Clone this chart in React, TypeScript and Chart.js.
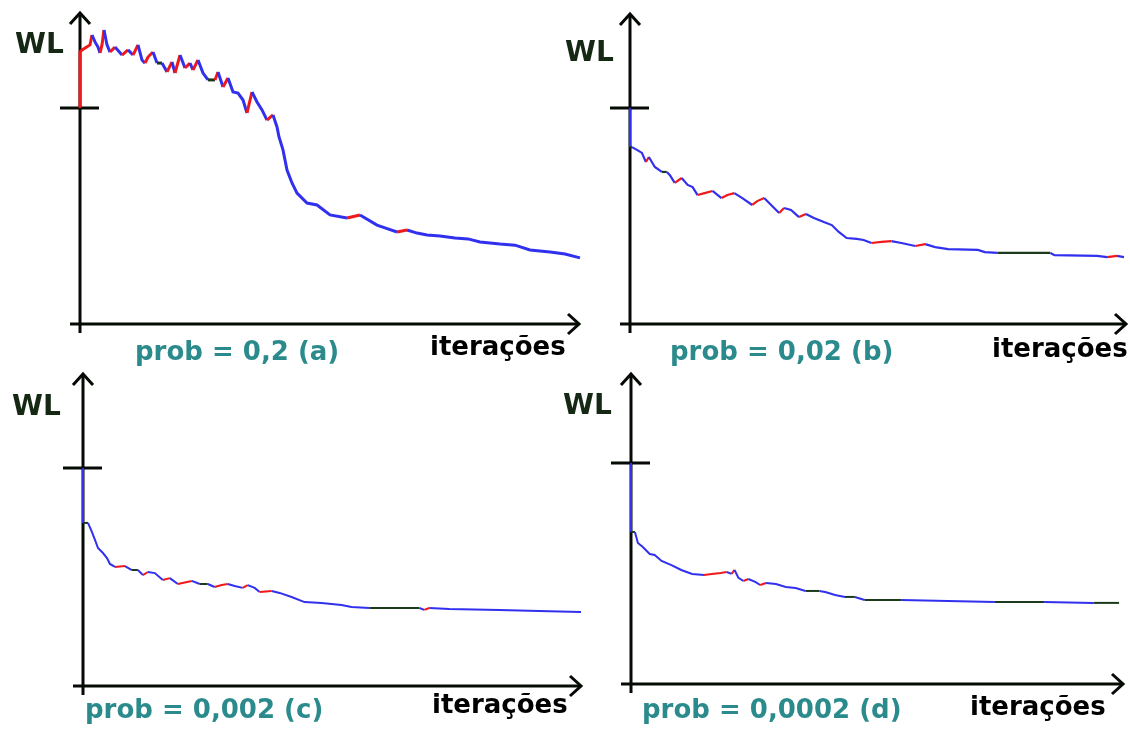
import React, { useEffect, useRef } from "react";
import { Chart, registerables } from "chart.js";

Chart.register(...registerables);

// ---------- data ----------
const PANEL_TITLES = ["prob = 0,2 (a)", "prob = 0,02 (b)", "prob = 0,002 (c)", "prob = 0,0002 (d)"];
const X_LABEL = "iterações";
const Y_LABEL = "WL";
const START_WL = 100;
const X_MAX = 500;

const ITER_A = [0, 0, 2, 10, 12, 15, 18, 20, 22, 24, 27, 30, 35, 42, 48, 53, 58, 62, 65, 68, 73, 77, 82, 87, 92, 95, 100, 105, 110, 113, 118, 123, 128, 135, 138, 143, 148, 153, 158, 163, 167, 172, 177, 182, 187, 193, 197, 199, 203, 207, 212, 217, 227, 237, 250, 267, 280, 297, 305, 317, 327, 337, 347, 360, 375, 388, 400, 420, 435, 450, 470, 485, 500];
const WL_A = [100, 125.9, 126.9, 129.2, 133.8, 130.6, 128.2, 125.5, 129.2, 136.1, 129.2, 125.9, 128.2, 124.5, 126.9, 124.5, 129.2, 122.2, 120.8, 123.6, 125.9, 120.8, 120.8, 116.7, 121.3, 116.2, 124.5, 118.5, 120.8, 117.6, 122.2, 116.2, 113.0, 113.0, 116.7, 109.7, 113.9, 107.4, 106.9, 103.7, 97.7, 107.4, 102.8, 99.1, 94.4, 96.8, 91.2, 86.6, 80.6, 71.3, 65.3, 60.6, 56.0, 55.1, 50.5, 49.1, 50.5, 45.8, 44.5, 42.6, 43.5, 42.1, 41.2, 40.7, 39.8, 39.4, 38.0, 37.0, 36.5, 34.3, 33.3, 32.4, 30.6];

const ITER_B = [0, 0, 2, 7, 12, 16, 19, 25, 32, 37, 40, 45, 52, 58, 63, 68, 75, 83, 92, 98, 105, 113, 123, 128, 135, 142, 150, 155, 162, 170, 177, 185, 195, 203, 210, 218, 228, 235, 243, 253, 263, 273, 287, 297, 307, 320, 350, 357, 370, 423, 427, 470, 480, 490, 497];
const WL_B = [100, 81.9, 81.9, 80.6, 79.2, 75.0, 77.3, 72.7, 70.4, 70.4, 69.0, 65.3, 67.6, 64.4, 63.4, 59.7, 60.6, 61.6, 58.3, 59.7, 60.6, 58.3, 55.1, 56.9, 58.3, 55.1, 51.4, 53.7, 52.8, 49.5, 50.9, 49.1, 47.2, 45.8, 42.6, 39.8, 39.4, 38.9, 37.5, 38.0, 38.4, 37.5, 36.1, 37.0, 35.6, 34.7, 34.3, 33.3, 32.9, 32.9, 31.9, 31.5, 31.0, 31.5, 31.0];

const ITER_C = [0, 0, 5, 9, 12, 15, 20, 24, 27, 32, 42, 49, 55, 60, 65, 72, 80, 87, 95, 109, 117, 125, 132, 139, 145, 152, 160, 165, 172, 177, 189, 197, 209, 222, 239, 259, 269, 287, 337, 342, 347, 367, 417, 457, 499];
const WL_C = [100, 74.8, 74.8, 70.6, 67.0, 63.3, 61.0, 58.7, 56.0, 54.6, 55.0, 53.2, 53.2, 50.9, 52.3, 51.8, 48.6, 49.5, 46.8, 48.2, 46.8, 46.8, 45.4, 46.3, 46.8, 45.9, 45.0, 46.3, 45.0, 43.1, 43.6, 42.7, 40.8, 38.5, 38.1, 37.2, 36.2, 35.8, 35.8, 34.9, 35.8, 35.3, 34.9, 34.4, 33.9];

const ITER_D = [0, 0, 4, 7, 12, 19, 24, 31, 41, 51, 62, 74, 82, 91, 97, 102, 105, 109, 114, 119, 126, 131, 137, 147, 157, 167, 177, 191, 197, 207, 217, 227, 237, 274, 369, 419, 469, 495];
const WL_D = [100, 68.8, 68.8, 63.8, 62.0, 58.8, 58.4, 55.7, 53.8, 51.6, 49.8, 49.3, 49.8, 50.2, 50.7, 49.8, 51.6, 48.0, 46.6, 47.5, 46.2, 44.8, 45.7, 45.2, 43.9, 43.4, 42.1, 42.1, 41.6, 40.3, 39.4, 39.4, 38.0, 38.0, 37.1, 37.1, 36.7, 36.7];

// ---------- layout (absolute page pixels) ----------
const PANELS = [
  { iter: ITER_A, wl: WL_A, title: PANEL_TITLES[0], left: 80, right: 580, top: 12, bottom: 324, tickY: 108, lw: 3,
    wlPos: [15, 53], titlePos: [135, 360], xlabPos: [430, 355] },
  { iter: ITER_B, wl: WL_B, title: PANEL_TITLES[1], left: 630, right: 1127, top: 13, bottom: 324, tickY: 108, lw: 2.2,
    wlPos: [565, 61], titlePos: [670, 360], xlabPos: [992, 357] },
  { iter: ITER_C, wl: WL_C, title: PANEL_TITLES[2], left: 83, right: 582, top: 373, bottom: 686, tickY: 468, lw: 2,
    wlPos: [12, 415], titlePos: [85, 718], xlabPos: [432, 713] },
  { iter: ITER_D, wl: WL_D, title: PANEL_TITLES[3], left: 631, right: 1124, top: 373, bottom: 684, tickY: 463, lw: 2,
    wlPos: [563, 414], titlePos: [642, 718], xlabPos: [970, 715] },
];

const W = 1130;
const H = 731;
const FONT = "'DejaVu Sans', Verdana, sans-serif";

const arrowAxes = {
  id: "arrowAxes",
  beforeDatasetsDraw(chart: any, _args: any, opts: any) {
    const { ctx, chartArea } = chart;
    const { left, right, top, bottom } = chartArea;
    const yTick = chart.scales.y.getPixelForValue(START_WL);
    ctx.save();
    ctx.strokeStyle = "#050a05";
    ctx.lineWidth = 3;
    ctx.lineCap = "butt";
    ctx.lineJoin = "miter";
    // y axis
    ctx.beginPath();
    ctx.moveTo(left, bottom + 9);
    ctx.lineTo(left, top + 1);
    ctx.stroke();
    ctx.beginPath();
    ctx.moveTo(left - 10, top + 12);
    ctx.lineTo(left, top + 1);
    ctx.lineTo(left + 10, top + 12);
    ctx.stroke();
    // x axis
    ctx.beginPath();
    ctx.moveTo(left - 10, bottom);
    ctx.lineTo(right - 1, bottom);
    ctx.stroke();
    ctx.beginPath();
    ctx.moveTo(right - 12, bottom - 10);
    ctx.lineTo(right - 1, bottom);
    ctx.lineTo(right - 12, bottom + 10);
    ctx.stroke();
    // start tick
    ctx.beginPath();
    ctx.moveTo(left - 20, yTick);
    ctx.lineTo(left + 19, yTick);
    ctx.stroke();
    ctx.restore();
  },
  afterDraw(chart: any, _args: any, opts: any) {
    const { ctx } = chart;
    ctx.save();
    ctx.textBaseline = "alphabetic";
    ctx.textAlign = "left";
    ctx.fillStyle = "#142814";
    ctx.font = `bold 28px ${FONT}`;
    ctx.fillText(Y_LABEL, opts.wlPos[0], opts.wlPos[1]);
    ctx.fillStyle = "#2b8a8c";
    ctx.font = `bold 26px ${FONT}`;
    ctx.fillText(opts.title, opts.titlePos[0], opts.titlePos[1]);
    ctx.fillStyle = "#000000";
    ctx.font = `bold 26px ${FONT}`;
    ctx.fillText(X_LABEL, opts.xlabPos[0], opts.xlabPos[1]);
    ctx.restore();
  },
};

function Panel({ p }: { p: typeof PANELS[number] }) {
  const ref = useRef<HTMLCanvasElement | null>(null);
  useEffect(() => {
    if (!ref.current) return;
    const yMax = (START_WL * (p.bottom - p.top)) / (p.bottom - p.tickY);
    const chart = new Chart(ref.current, {
      type: "line",
      data: {
        datasets: [
          {
            data: p.iter.map((x, i) => ({ x, y: p.wl[i] })),
            borderColor: "#3030ee",
            borderWidth: p.lw,
            pointRadius: 0,
            tension: 0,
            clip: false as any,
            segment: {
              borderColor: (c: any) => {
                const dy = c.p1.parsed.y - c.p0.parsed.y;
                if (Math.abs(dy) < 0.3) return "#1c3a1c";
                return dy > 0 ? "#f01818" : "#3030ee";
              },
            },
          },
        ],
      },
      options: {
        responsive: false,
        maintainAspectRatio: false,
        devicePixelRatio: 1,
        animation: false,
        events: [],
        layout: {
          padding: { left: p.left, right: W - p.right, top: p.top, bottom: H - p.bottom },
        },
        scales: {
          x: { type: "linear", min: 0, max: X_MAX, display: false },
          y: { type: "linear", min: 0, max: yMax, display: false },
        },
        plugins: {
          legend: { display: false },
          tooltip: { enabled: false },
          title: { display: false },
          arrowAxes: { title: p.title, wlPos: p.wlPos, titlePos: p.titlePos, xlabPos: p.xlabPos },
        } as any,
      },
      plugins: [arrowAxes],
    });
    return () => chart.destroy();
  }, [p]);
  return (
    <canvas
      ref={ref}
      width={W}
      height={H}
      style={{ position: "absolute", left: 0, top: 0, width: W, height: H }}
    />
  );
}

export default function App() {
  return (
    <div style={{ position: "absolute", left: 0, top: 0, width: W, height: H, background: "#fff" }}>
      {PANELS.map((p, i) => (
        <Panel key={i} p={p} />
      ))}
    </div>
  );
}
